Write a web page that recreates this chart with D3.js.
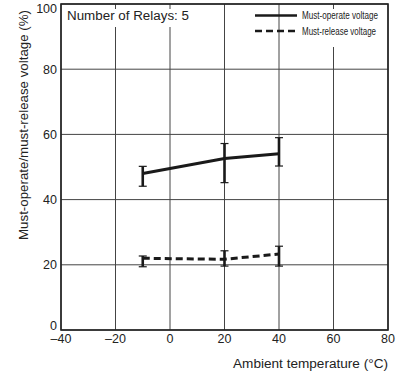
<!DOCTYPE html>
<html><head><meta charset="utf-8">
<script src="https://cdn.jsdelivr.net/npm/d3@7"></script>
<style>body{margin:0;background:#fff}svg{display:block;font-family:"Liberation Sans",Arial,sans-serif}</style>
</head><body><svg id="c" width="402" height="376"></svg>
<script>
const temps = [-10, 20, 40];
const operateMid = [48.0, 52.6, 54.1];
const operateHi = [50.2, 57.2, 59.0];
const operateLo = [44.1, 45.2, 50.3];
const releaseMid = [22.0, 21.7, 23.3];
const releaseHi = [22.7, 24.3, 25.7];
const releaseLo = [19.4, 19.6, 19.6];
const xTicks = [-40, -20, 0, 20, 40, 60, 80];
const yTicks = [0, 20, 40, 60, 80, 100];

const svg = d3.select("#c");
const L = 61, R = 388, T = 4, B = 330;
const x = d3.scaleLinear().domain([-40, 80]).range([L, R]);
const y = d3.scaleLinear().domain([0, 100]).range([B, T]);

// grid
const g = svg.append("g");
g.selectAll(".vx").data(xTicks).join("line")
  .attr("x1", d => x(d)).attr("x2", d => x(d)).attr("y1", T).attr("y2", B)
  .attr("stroke", "#444").attr("stroke-width", 1);
g.selectAll(".hy").data(yTicks).join("line")
  .attr("x1", L).attr("x2", R).attr("y1", d => y(d)).attr("y2", d => y(d))
  .attr("stroke", "#444").attr("stroke-width", 1);

// white boxes for annotation & legend
svg.append("rect").attr("x", L + 1).attr("y", T + 5).attr("width", 140).attr("height", 18).attr("fill", "#fff");
svg.append("rect").attr("x", 290).attr("y", T + 5).attr("width", R - 291).attr("height", 38).attr("fill", "#fff");

// border
svg.append("rect").attr("x", L).attr("y", T).attr("width", R - L).attr("height", B - T)
  .attr("fill", "none").attr("stroke", "#222").attr("stroke-width", 1.6);

// axes labels
const ax = svg.append("g").attr("font-size", 12.5).attr("fill", "#222");
ax.selectAll(".xl").data(xTicks).join("text")
  .attr("x", d => x(d)).attr("y", B + 13).attr("text-anchor", "middle")
  .text(d => d < 0 ? "\u2013" + Math.abs(d) : d);
ax.selectAll(".yl").data(yTicks).join("text")
  .attr("x", L - 4).attr("y", d => y(d) + (d === 0 ? -0.5 : d === 100 ? 9 : 4.5)).attr("text-anchor", "end")
  .text(d => d);

svg.append("text").attr("x", R).attr("y", 368).attr("text-anchor", "end")
  .attr("font-size", 12.5).attr("fill", "#222")
  .attr("textLength", 155).attr("lengthAdjust", "spacingAndGlyphs")
  .text("Ambient temperature (\u00B0C)");
svg.append("text").attr("transform", "translate(28,125) rotate(-90)")
  .attr("text-anchor", "middle").attr("font-size", 12.5).attr("fill", "#222")
  .attr("textLength", 230).attr("lengthAdjust", "spacingAndGlyphs")
  .text("Must-operate/must-release voltage (%)");

svg.append("text").attr("x", 67).attr("y", 19.5).attr("font-size", 12.5).attr("fill", "#222")
  .attr("textLength", 122).attr("lengthAdjust", "spacingAndGlyphs")
  .text("Number of Relays: 5");

// series
function drawSeries(mid, hi, lo, dash) {
  const pts = temps.map((t, i) => [t, mid[i]]);
  svg.append("path").attr("d", d3.line().x(d => x(d[0])).y(d => y(d[1]))(pts))
    .attr("fill", "none").attr("stroke", "#1a1a1a").attr("stroke-width", 3)
    .attr("stroke-dasharray", dash ? "7,4" : null);
  const eb = svg.append("g");
  temps.forEach((t, i) => {
    eb.append("line").attr("x1", x(t)).attr("x2", x(t)).attr("y1", y(hi[i])).attr("y2", y(lo[i]))
      .attr("stroke", "#1a1a1a").attr("stroke-width", 2.6);
    [hi[i], lo[i]].forEach(v => eb.append("line")
      .attr("x1", x(t) - 4).attr("x2", x(t) + 4).attr("y1", y(v)).attr("y2", y(v))
      .attr("stroke", "#1a1a1a").attr("stroke-width", 1.2));
  });
}
drawSeries(operateMid, operateHi, operateLo, false);
drawSeries(releaseMid, releaseHi, releaseLo, true);

// legend
const lg = svg.append("g");
lg.append("line").attr("x1", 255).attr("x2", 297).attr("y1", 15.5).attr("y2", 15.5)
  .attr("stroke", "#1a1a1a").attr("stroke-width", 2.6);
lg.append("line").attr("x1", 255).attr("x2", 297).attr("y1", 31).attr("y2", 31)
  .attr("stroke", "#1a1a1a").attr("stroke-width", 2.6).attr("stroke-dasharray", "7,4");
lg.append("text").attr("x", 302).attr("y", 19).attr("font-size", 10.5).attr("fill", "#222")
  .attr("textLength", 76).attr("lengthAdjust", "spacingAndGlyphs").text("Must-operate voltage");
lg.append("text").attr("x", 302).attr("y", 34.5).attr("font-size", 10.5).attr("fill", "#222")
  .attr("textLength", 74).attr("lengthAdjust", "spacingAndGlyphs").text("Must-release voltage");
</script></body></html>
